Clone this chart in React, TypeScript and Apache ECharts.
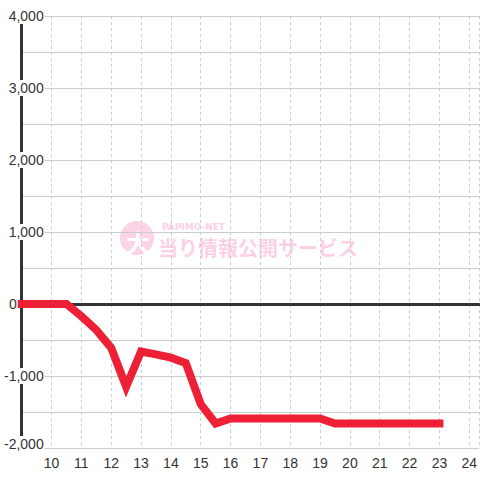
import React, { useEffect, useRef } from "react";
import * as echarts from "echarts";

const hours = [9, 9.5, 10, 10.5, 11, 11.5, 12, 12.5, 13, 13.5, 14, 14.5, 15, 15.5, 16, 16.5, 17, 17.5, 18, 18.5, 19, 19.5, 20, 20.5, 21, 21.5, 22, 22.5, 23];
const values = [0, 0, 0, 0, -170, -360, -610, -1150, -660, -700, -745, -820, -1390, -1660, -1590, -1590, -1590, -1590, -1590, -1590, -1590, -1660, -1660, -1660, -1660, -1660, -1660, -1660, -1660];
const yTicks = [-2000, 4000, 500];
const xRange = [9, 24.333];

export default function App() {
  const ref = useRef<HTMLDivElement>(null);
  useEffect(() => {
    const chart = echarts.init(ref.current!, undefined, { renderer: "svg" });
    const fmt = (v: number) => {
      const s = Math.abs(v).toString().replace(/\B(?=(\d{3})+(?!\d))/g, ",");
      return (v < 0 ? "-" : "") + s;
    };
    const font = "'Liberation Sans', Arial, sans-serif";
    chart.setOption({
      animation: false,
      backgroundColor: "#ffffff",
      grid: { left: 20, right: 0, top: 16, bottom: 32 },
      graphic: [
        {
          type: "circle",
          z: -10,
          shape: { cx: 137, cy: 238, r: 17 },
          style: { fill: "#fcd3e7" },
        },
        {
          type: "text",
          z: -9,
          x: 138,
          y: 241,
          style: {
            text: "大",
            fill: "#ffffff",
            font: "bold 24px 'Noto Sans CJK JP'",
            align: "center",
            verticalAlign: "middle",
          },
        },
        {
          type: "text",
          z: -9,
          x: 162,
          y: 227,
          style: {
            text: "PAPIMO-NET",
            fill: "#fcd0e5",
            font: "bold 9px 'DejaVu Sans'",
            align: "left",
            verticalAlign: "middle",
          },
        },
        {
          type: "text",
          z: -9,
          x: 158,
          y: 247,
          style: {
            text: "当り情報公開サービス",
            fill: "#fcd0e5",
            font: "bold 20px 'Noto Sans CJK JP'",
            align: "left",
            verticalAlign: "middle",
          },
        },
      ],
      xAxis: [
        {
          type: "value",
          min: xRange[0],
          max: xRange[1],
          interval: 1,
          axisLine: { show: false, onZero: false },
          axisTick: { show: false },
          axisLabel: {
            margin: 8,
            color: "#333333",
            fontSize: 14,
            fontFamily: font,
            showMaxLabel: false,
            showMinLabel: false,
            formatter: (v: number) => (Number.isInteger(v) && v >= 10 && v <= 24 ? String(v) : ""),
          },
          splitLine: { show: true, lineStyle: { color: "#cccccc", type: [3, 3], width: 1 } },
        },
        {
          type: "value",
          min: xRange[0],
          max: xRange[1],
          axisLine: { show: true, onZero: true, lineStyle: { color: "#333333", width: 3 } },
          axisTick: { show: false },
          axisLabel: { show: false },
          splitLine: { show: false },
        },
      ],
      yAxis: {
        type: "value",
        min: yTicks[0],
        max: yTicks[1],
        interval: yTicks[2],
        axisLine: { show: true, lineStyle: { color: "#333333", width: 3 } },
        axisTick: { show: false },
        splitLine: { show: true, lineStyle: { color: "#cccccc", width: 1 } },
        axisLabel: {
          margin: -23,
          color: "#333333",
          fontSize: 14,
          fontFamily: font,
          formatter: (v: number) => {
            if (v % 1000 !== 0) return "";
            if (v === 0) return "{z|0}";
            if (v === yTicks[0]) return "{b|" + fmt(v) + "}";
            return "{a|" + fmt(v) + "}";
          },
          rich: {
            a: {
              backgroundColor: "#ffffff",
              padding: [1, 1, 1, 1],
              color: "#333333",
              fontSize: 14,
              fontFamily: font,
            },
            b: {
              backgroundColor: "#ffffff",
              padding: [1, 1, 9, 1],
              color: "#333333",
              fontSize: 14,
              fontFamily: font,
            },
            z: {
              padding: [1, 28, 1, 1],
              color: "#333333",
              fontSize: 14,
              fontFamily: font,
            },
          },
        },
      },
      series: [
        {
          type: "line",
          xAxisIndex: 0,
          data: hours.map((h, i) => [h, values[i]]),
          symbol: "none",
          z: 5,
          lineStyle: { color: "#ee2035", width: 8, cap: "square", join: "miter" },
        },
      ],
    });
    return () => chart.dispose();
  }, []);
  return <div ref={ref} style={{ width: 480, height: 480, position: "absolute", left: 0, top: 0 }} />;
}
